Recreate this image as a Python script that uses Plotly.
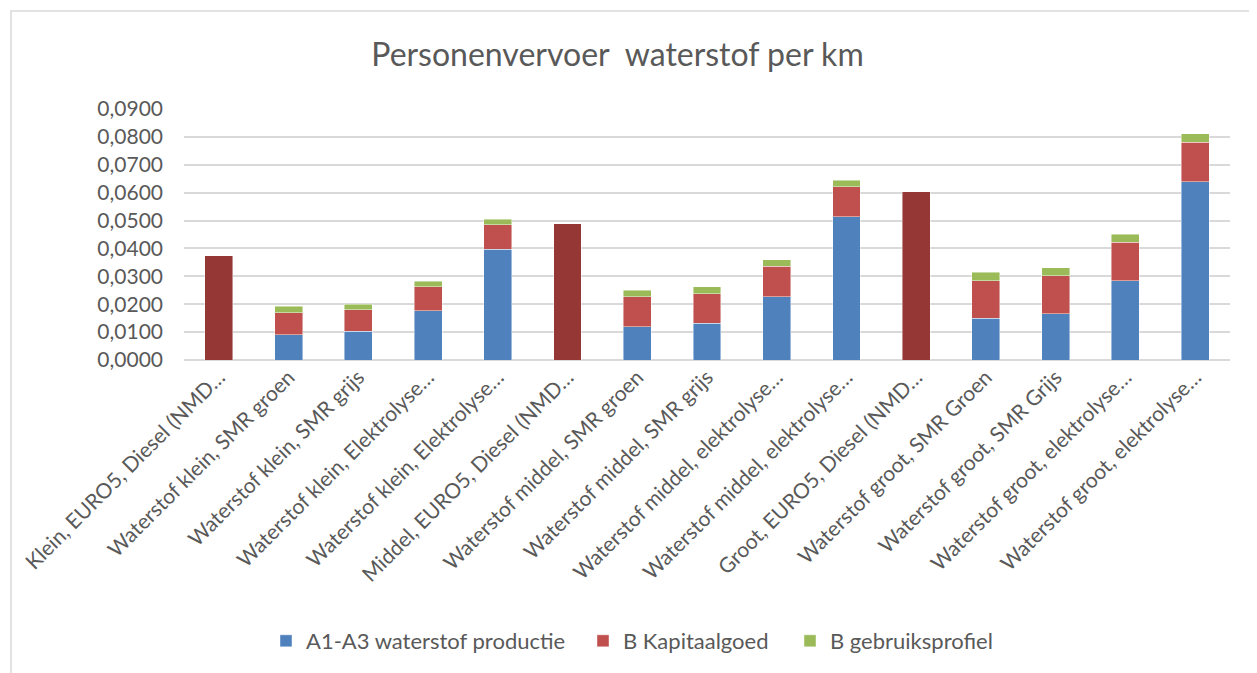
import plotly.graph_objects as go

categories = [
    "Klein, EURO5, Diesel (NMD…",
    "Waterstof klein, SMR groen",
    "Waterstof klein, SMR grijs",
    "Waterstof klein, Elektrolyse…",
    "Waterstof klein, Elektrolyse…",
    "Middel, EURO5, Diesel (NMD…",
    "Waterstof middel, SMR groen",
    "Waterstof middel, SMR grijs",
    "Waterstof middel, elektrolyse…",
    "Waterstof middel, elektrolyse…",
    "Groot, EURO5, Diesel (NMD…",
    "Waterstof groot, SMR Groen",
    "Waterstof groot, SMR Grijs",
    "Waterstof groot, elektrolyse…",
    "Waterstof groot, elektrolyse…",
]

diesel = [0.0373, None, None, None, None, 0.0488, None, None, None, None, 0.0604, None, None, None, None]
productie = [None, 0.0091, 0.0104, 0.0177, 0.0398, None, 0.0120, 0.0131, 0.0227, 0.0514, None, 0.0149, 0.0166, 0.0285, 0.0640]
kapitaalgoed = [None, 0.0079, 0.0077, 0.0085, 0.0087, None, 0.0106, 0.0107, 0.0110, 0.0108, None, 0.0136, 0.0136, 0.0137, 0.0141]
gebruiksprofiel = [None, 0.0023, 0.0019, 0.0020, 0.0020, None, 0.0025, 0.0025, 0.0023, 0.0023, None, 0.0029, 0.0029, 0.0029, 0.0030]

series_names = ["A1-A3 waterstof productie", "B Kapitaalgoed", "B gebruiksprofiel"]

xpos = list(range(len(categories)))
FONT = "Lato, 'Open Sans', sans-serif"
TXT = "#595959"
edge = dict(width=0.8, color="rgba(255,255,255,0.55)")

fig = go.Figure()
fig.add_trace(go.Bar(x=xpos, y=diesel, name="Diesel", showlegend=False,
                     marker=dict(color="#953735", line=edge)))
fig.add_trace(go.Bar(x=xpos, y=productie, name=series_names[0], legend="legend",
                     marker=dict(color="#4F81BD", line=edge)))
fig.add_trace(go.Bar(x=xpos, y=kapitaalgoed, name=series_names[1], legend="legend2",
                     marker=dict(color="#C0504D", line=edge)))
fig.add_trace(go.Bar(x=xpos, y=gebruiksprofiel, name=series_names[2], legend="legend3",
                     marker=dict(color="#9BBB59", line=edge)))

W, H = 1249, 665
L, T, PW, PH = 176, 101, 1046, 251
OX, OY = 184, 109  # page position of plot area


def legend_at(text_left_px):
    return dict(orientation="h", x=(text_left_px - 40 - OX) / PW, xanchor="left",
                y=(PH - (641 - OY)) / PH, yanchor="middle",
                font=dict(size=22, color=TXT, family=FONT), itemclick=False,
                bgcolor="rgba(0,0,0,0)")


fig.update_layout(
    width=W, height=H,
    barmode="stack", bargap=0.6,
    paper_bgcolor="white", plot_bgcolor="white",
    margin=dict(l=L, r=W - L - PW, t=T, b=H - T - PH),
    font=dict(family=FONT, color=TXT, size=21),
    title=dict(text="Personenvervoer  waterstof per km", x=((375 + 860) / 2 - 8) / W,
               xanchor="center", y=1 - 47 / H, yanchor="middle",
               font=dict(family=FONT, size=32, color=TXT)),
    xaxis=dict(tickmode="array", tickvals=xpos, ticktext=categories,
               tickangle=-45, range=[-0.5, len(categories) - 0.5],
               showgrid=False, zeroline=False, showline=False, ticks="",
               tickfont=dict(size=21, color=TXT)),
    yaxis=dict(range=[0, 0.09], dtick=0.01, tickformat=".4f",
               showgrid=True, gridcolor="#D9D9D9", gridwidth=1.5,
               zeroline=True, zerolinecolor="#D9D9D9", zerolinewidth=1.5,
               showline=False, ticks="", ticklen=0, ticklabelstandoff=20,
               tickfont=dict(size=21, color=TXT)),
    separators=",.",
    legend=legend_at(306),
    legend2=legend_at(623),
    legend3=legend_at(830),
    showlegend=True,
)

fig.add_shape(type="rect", xref="paper", yref="paper",
              x0=(11 - OX) / PW, x1=(1280 - OX) / PW,
              y0=(OY + PH - 690) / PH, y1=(OY + PH - 11) / PH,
              line=dict(color="#D9D9D9", width=1.5), fillcolor="rgba(0,0,0,0)", layer="below")

fig.write_html("out.html")
